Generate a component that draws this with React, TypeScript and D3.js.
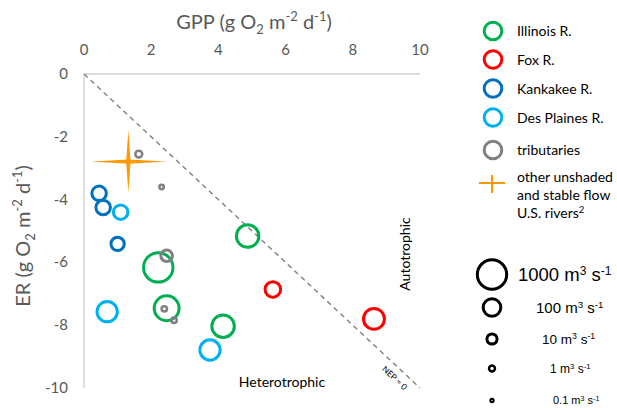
import React from "react";
import * as d3 from "d3";

// ---------- data ----------
const xTicks = [0, 2, 4, 6, 8, 10];
const yTicks = [0, -2, -4, -6, -8, -10];

const illinoisGPP = [4.87, 2.21, 2.46, 4.14];
const illinoisER = [-5.16, -6.16, -7.46, -8.03];
const illinoisQ = [293, 1000, 465, 293];

const foxGPP = [5.62, 8.63];
const foxER = [-6.86, -7.8];
const foxQ = [58, 211];

const kankakeeGPP = [0.45, 0.57, 1.0];
const kankakeeER = [-3.8, -4.25, -5.41];
const kankakeeQ = [43, 43, 30];

const desPlainesGPP = [1.09, 0.69, 3.75];
const desPlainesER = [-4.4, -7.57, -8.79];
const desPlainesQ = [43, 186, 186];

const tribGPP = [1.63, 2.31, 2.46, 2.39, 2.68];
const tribER = [-2.55, -3.6, -5.79, -7.48, -7.84];
const tribQ = [1.8, 0.39, 17, 0.78, 0.78];

// other unshaded & stable flow U.S. rivers: mean with ranges
const otherGPP = 1.32;
const otherGPPRange = [0.21, 2.46];
const otherER = -2.79;
const otherERRange = [-1.78, -3.78];

const seriesNames = ["Illinois R.", "Fox R.", "Kankakee R.", "Des Plaines R.", "tributaries"];
const seriesColors = ["#00B050", "#FF0000", "#0070C0", "#00B0F0", "#808080"];
const otherLabel = ["other unshaded", "and stable flow", "U.S. rivers"];

const sizeLegendQ = [1000, 100, 10, 1, 0.1];
const sizeLegendLabels = ["1000", "100", "10", "1", "0.1"];

// ---------- layout ----------
const W = 617;
const H = 408;
const x = d3.scaleLinear().domain([0, 10]).range([84, 420]);
const y = d3.scaleLinear().domain([0, -10]).range([74, 388]);
const r = d3.scalePow().exponent(0.196).domain([0, 1000]).range([0, 16.2]);

const FONT = "Lato, 'Open Sans', sans-serif";
const GRAY = "#595959";

const seriesData = [
  { gpp: illinoisGPP, er: illinoisER, q: illinoisQ },
  { gpp: foxGPP, er: foxER, q: foxQ },
  { gpp: kankakeeGPP, er: kankakeeER, q: kankakeeQ },
  { gpp: desPlainesGPP, er: desPlainesER, q: desPlainesQ },
  { gpp: tribGPP, er: tribER, q: tribQ },
];

function Bubble({ cx, cy, outer, color }: { cx: number; cy: number; outer: number; color: string }) {
  const sw = outer > 6 ? 3 : outer > 3.2 ? 2.5 : 2;
  return <circle cx={cx} cy={cy} r={Math.max(outer - sw / 2, 0.8)} fill="none" stroke={color} strokeWidth={sw} />;
}

function taperH(x0: number, x1: number, yc: number, cx: number, w: number) {
  return `M${x0},${yc} L${cx},${yc - w} L${x1},${yc} L${cx},${yc + w} Z`;
}
function taperV(y0: number, y1: number, xc: number, cy: number, w: number) {
  return `M${xc},${y0} L${xc + w},${cy} L${xc},${y1} L${xc - w},${cy} Z`;
}

export default function App() {
  const cx = x(otherGPP);
  const cy = y(otherER);
  const angle = (Math.atan2(y(-10) - y(0), x(10) - x(0)) * 180) / Math.PI;
  const rad = (angle * Math.PI) / 180;
  // NEP label: point on line, offset perpendicular (down-left)
  const tAlong = 9.45;
  const nepX = x(tAlong) - Math.sin(rad) * 13;
  const nepY = y(-tAlong) + Math.cos(rad) * 13;

  const legX = 493;
  const legYs = [31, 59.5, 88.5, 117.5, 150];
  const sizeYs = [274.5, 307.5, 339, 368.5, 400.5];
  const sizeTextX = [518, 536, 542, 550, 553];
  const sizeFont = [18.5, 15, 13.5, 12, 11];

  return (
    <svg width={W} height={H} style={{ position: "absolute", left: 0, top: 0 }} fontFamily={FONT}>
      <rect width={W} height={H} fill="#fff" />
      {/* axis lines */}
      <line x1={x(0)} x2={x(10)} y1={y(0)} y2={y(0)} stroke="#d0d0d0" strokeWidth={1.3} />
      <line x1={x(0)} x2={x(0)} y1={y(0)} y2={y(-10)} stroke="#d0d0d0" strokeWidth={1.3} />
      {/* tick labels */}
      {xTicks.map((t) => (
        <text key={"x" + t} x={x(t)} y={55} textAnchor="middle" fontSize={15} fill={GRAY}>
          {t}
        </text>
      ))}
      {yTicks.map((t) => (
        <text key={"y" + t} x={68} y={y(t) + 5} textAnchor="end" fontSize={15} fill={GRAY}>
          {t}
        </text>
      ))}
      {/* axis titles */}
      <text x={254} y={29} textAnchor="middle" fontSize={20} fill={GRAY}>
        GPP (g O
        <tspan fontSize={13} dy={5}>2</tspan>
        <tspan dy={-5}> m</tspan>
        <tspan fontSize={13} dy={-8}>-2</tspan>
        <tspan dy={8}> d</tspan>
        <tspan fontSize={13} dy={-8}>-1</tspan>
        <tspan dy={8}>)</tspan>
      </text>
      <text transform={`translate(30,236) rotate(-90)`} textAnchor="middle" fontSize={20} fill={GRAY}>
        ER (g O
        <tspan fontSize={13} dy={5}>2</tspan>
        <tspan dy={-5}> m</tspan>
        <tspan fontSize={13} dy={-8}>-2</tspan>
        <tspan dy={8}> d</tspan>
        <tspan fontSize={13} dy={-8}>-1</tspan>
        <tspan dy={8}>)</tspan>
      </text>
      {/* NEP = 0 line */}
      <line x1={x(0)} y1={y(0)} x2={x(10)} y2={y(-10)} stroke="#808080" strokeWidth={1.4} strokeDasharray="5,4" />
      <text
        transform={`translate(${nepX},${nepY}) rotate(${angle})`}
        textAnchor="middle"
        fontSize={8.5}
        fill="#000"
      >
        NEP = 0
      </text>
      <text transform={`translate(410,254) rotate(-90)`} textAnchor="middle" fontSize={14} fill="#000">
        Autotrophic
      </text>
      <text x={282} y={387} textAnchor="middle" fontSize={14} fill="#000">
        Heterotrophic
      </text>
      {/* orange cross */}
      <path d={taperH(x(otherGPPRange[0]), x(otherGPPRange[1]), cy, cx, 2.2)} fill="#FF9900" />
      <path d={taperV(y(otherERRange[0]), y(otherERRange[1]), cx, cy, 2.2)} fill="#FF9900" />
      {/* bubbles */}
      {seriesData.map((s, si) =>
        s.gpp.map((g, i) => (
          <Bubble key={si + "-" + i} cx={x(g)} cy={y(s.er[i])} outer={r(s.q[i])} color={seriesColors[si]} />
        ))
      )}
      {/* series legend */}
      {seriesNames.map((n, i) => (
        <g key={n}>
          <circle cx={legX} cy={legYs[i]} r={8.8} fill="none" stroke={seriesColors[i]} strokeWidth={3} />
          <text x={517} y={legYs[i] + 5} fontSize={14} fill="#000">
            {n}
          </text>
        </g>
      ))}
      <line x1={479} x2={505} y1={183} y2={183} stroke="#FF9900" strokeWidth={2} />
      <line x1={492} x2={492} y1={175} y2={193} stroke="#FF9900" strokeWidth={2} />
      {otherLabel.map((l, i) => (
        <text key={l} x={517} y={182 + i * 17.8} fontSize={14} fill="#000">
          {l}
          {i === 2 ? (
            <tspan fontSize={9.5} dy={-5}>
              2
            </tspan>
          ) : null}
        </text>
      ))}
      {/* size legend */}
      {sizeLegendQ.map((q, i) => (
        <g key={"s" + q}>
          <Bubble cx={492} cy={sizeYs[i]} outer={r(q)} color="#000" />
          <text
            x={sizeTextX[i]}
            y={sizeYs[i] + sizeFont[i] * 0.36}
            fontSize={sizeFont[i]}
            fontFamily="'Liberation Sans', Arial, sans-serif"
            fill="#000"
          >
            {sizeLegendLabels[i]} m
            <tspan fontSize={sizeFont[i] * 0.65} dy={-sizeFont[i] * 0.35}>3</tspan>
            <tspan dy={sizeFont[i] * 0.35}> s</tspan>
            <tspan fontSize={sizeFont[i] * 0.65} dy={-sizeFont[i] * 0.35}>-1</tspan>
          </text>
        </g>
      ))}
    </svg>
  );
}
